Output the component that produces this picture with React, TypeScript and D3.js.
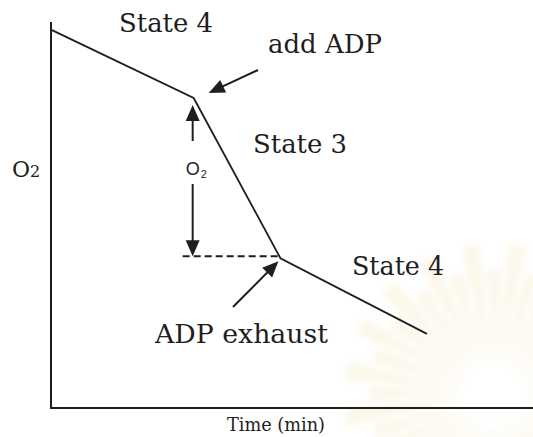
import React from "react";
import * as d3 from "d3";

// Oxygen trace: time (arbitrary units) vs. O2 concentration (arbitrary units)
const timePoints = [0.2, 29.6, 47.6, 78.0];
const o2Values = [97.9, 80.3, 38.8, 19.2];
const phaseLabels = ["State 4", "State 3", "State 4"];
const eventLabels = ["add ADP", "ADP exhaust"];
const xAxisTitle = "Time (min)";

const W = 533;
const H = 437;
const SERIF = "'DejaVu Serif', serif";
const INK = "#1e1e1e";

const x = d3.scaleLinear().domain([0, 100]).range([51, 533]);
const y = d3.scaleLinear().domain([0, 100]).range([408, 22]);

function arrowHead(tx: number, ty: number, fx: number, fy: number, len = 16, half = 7) {
  const a = Math.atan2(ty - fy, tx - fx);
  const bx = tx - len * Math.cos(a);
  const by = ty - len * Math.sin(a);
  const px = -Math.sin(a) * half;
  const py = Math.cos(a) * half;
  return `M${tx},${ty}L${bx + px},${by + py}L${bx - px},${by - py}Z`;
}

function Arrow({ fx, fy, tx, ty }: { fx: number; fy: number; tx: number; ty: number }) {
  const a = Math.atan2(ty - fy, tx - fx);
  const ex = tx - 12 * Math.cos(a);
  const ey = ty - 12 * Math.sin(a);
  return (
    <g>
      <line x1={fx} y1={fy} x2={ex} y2={ey} stroke={INK} strokeWidth={2} />
      <path d={arrowHead(tx, ty, fx, fy)} fill={INK} />
    </g>
  );
}

function Sunburst({ cx, cy }: { cx: number; cy: number }) {
  const rays = d3.range(40).map((i) => {
    const a = (i / 40) * Math.PI * 2;
    const r0 = 34;
    const r1 = 125 + (i % 2) * 25;
    const w0 = 0.025;
    const w1 = 0.06;
    const p = (r: number, ang: number) => `${cx + r * Math.cos(ang)},${cy + r * Math.sin(ang)}`;
    return `M${p(r0, a - w0)}L${p(r1, a - w1)}L${p(r1, a + w1)}L${p(r0, a + w0)}Z`;
  });
  return (
    <g opacity={0.35} filter="url(#soft)">
      {rays.map((d, i) => (
        <path key={i} d={d} fill="#f5e9c4" />
      ))}
    </g>
  );
}

export default function App() {
  const line = d3
    .line<number>()
    .x((_, i) => x(timePoints[i]))
    .y((d) => y(d));
  const pts = timePoints.map((t, i) => [x(t), y(o2Values[i])]);
  const [, p1, p2] = pts;
  const arrowX = p1[0] - 1;

  return (
    <svg
      width={W}
      height={H}
      style={{ position: "absolute", left: 0, top: 0, background: "#fff" }}
    >
      <defs>
        <filter id="soft" x="-20%" y="-20%" width="140%" height="140%">
          <feGaussianBlur stdDeviation="3" />
        </filter>
      </defs>
      <Sunburst cx={494} cy={394} />

      {/* axes */}
      <line x1={x(0)} y1={y(100)} x2={x(0)} y2={y(0) + 1} stroke={INK} strokeWidth={2} />
      <line x1={x(0)} y1={y(0)} x2={x(100)} y2={y(0)} stroke={INK} strokeWidth={2} />

      {/* O2 trace */}
      <path d={line(o2Values) ?? ""} fill="none" stroke={INK} strokeWidth={1.8} />

      {/* O2 consumed during state 3 */}
      <line
        x1={arrowX - 10}
        y1={p2[1] - 2}
        x2={p2[0]}
        y2={p2[1] - 2}
        stroke={INK}
        strokeWidth={1.8}
        strokeDasharray="7,4"
      />
      <Arrow fx={arrowX} fy={141} tx={arrowX} ty={p1[1] + 7} />
      <Arrow fx={arrowX} fy={184} tx={arrowX} ty={p2[1] - 2} />
      <text x={arrowX - 7} y={175} fontFamily="'Liberation Sans', Arial, sans-serif" fontSize={18} fill={INK}>
        O
        <tspan fontSize={11} dx={1} dy={3}>2</tspan>
      </text>

      {/* event arrows */}
      <Arrow fx={258} fy={70} tx={p1[0] + 15} ty={p1[1] - 5} />
      <Arrow fx={233} fy={307} tx={p2[0] - 2} ty={p2[1] + 3} />

      {/* labels */}
      <text x={119} y={32} fontFamily={SERIF} fontSize={26} fill={INK} textLength={94} lengthAdjust="spacingAndGlyphs">
        {phaseLabels[0]}
      </text>
      <text x={253} y={153} fontFamily={SERIF} fontSize={26} fill={INK} textLength={94} lengthAdjust="spacingAndGlyphs">
        {phaseLabels[1]}
      </text>
      <text x={352} y={275} fontFamily={SERIF} fontSize={26} fill={INK} textLength={92} lengthAdjust="spacingAndGlyphs">
        {phaseLabels[2]}
      </text>
      <text x={268} y={53} fontFamily={SERIF} fontSize={26} fill={INK} textLength={114} lengthAdjust="spacingAndGlyphs">
        {eventLabels[0]}
      </text>
      <text x={155} y={343} fontFamily={SERIF} fontSize={26} fill={INK} textLength={173} lengthAdjust="spacingAndGlyphs">
        {eventLabels[1]}
      </text>

      {/* axis titles */}
      <text x={12} y={177} fontFamily={SERIF} fontSize={22} fill={INK}>
        O<tspan fontSize={16}>2</tspan>
      </text>
      <text x={227} y={431} fontFamily={SERIF} fontSize={18} fill={INK} textLength={98} lengthAdjust="spacingAndGlyphs">
        {xAxisTitle}
      </text>
    </svg>
  );
}
